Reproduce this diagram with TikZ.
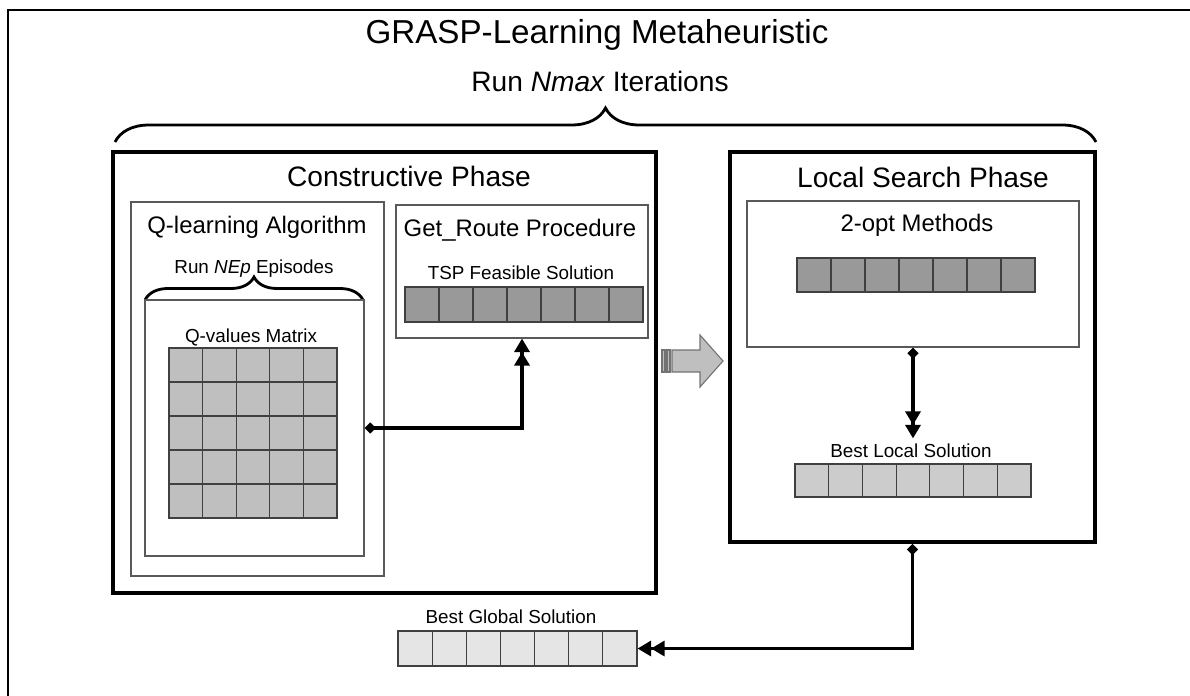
\documentclass[tikz,border=0pt]{standalone}
\usepackage{fontspec}
\setmainfont{Liberation Sans}
\usetikzlibrary{arrows.meta,decorations.pathreplacing,fit}
\definecolor{darkcell}{gray}{0.6}
\definecolor{matcell}{gray}{0.75}
\definecolor{localcell}{gray}{0.8}
\definecolor{globalcell}{gray}{0.9}
\tikzset{
  frame/.style={draw, line width=2pt},
  phase/.style={draw, line width=2.6pt, inner sep=0pt},
  subbox/.style={draw=black!65, line width=0.8pt, inner sep=0pt},
  solrow/.style={draw=black!75, line width=0.8pt, inner sep=0pt},
  cellline/.style={draw=black!75, line width=0.8pt},
  titletext/.style={font=\fontsize{23.6pt}{28pt}\selectfont, anchor=base},
  headtext/.style={font=\fontsize{20pt}{24pt}\selectfont, anchor=base},
  boxtext/.style={font=\fontsize{17pt}{20pt}\selectfont, anchor=base},
  smalltext/.style={font=\fontsize{13.4pt}{16pt}\selectfont, anchor=base},
  bigbrace/.style={decorate, line width=2pt, decoration={brace, amplitude=0.85cm}},
  smallbrace/.style={decorate, line width=2pt, decoration={brace, amplitude=0.575cm}},
  link/.style={line width=2.2pt,
    {Diamond[length=8pt,width=8pt]}-{Triangle[length=9.6pt,width=10.7pt]Triangle[length=9.6pt,width=10.7pt]}},
  flowarrow/.style={draw=black!55, fill=matcell, line width=0.8pt}
}
\begin{document}
\begin{tikzpicture}[x=0.025cm, y=-0.025cm]
\clip (0,0) rectangle (1190,696);
\draw[frame] (8,10) rectangle (1210,720);
\node[titletext] (title) at (597,44) {GRASP-Learning Metaheuristic};
\node[headtext] (runnmax) at (600,92) {Run \textit{Nmax} Iterations};
\draw[bigbrace] (115,142) -- (1096,142);

% constructive phase
\node[phase, fit={(113,152) (656,593)}] (constructive) {};
\node[headtext] (constructivelabel) at (409,186) {Constructive Phase};
\node[subbox, fit={(131,202) (384,576)}] (qlearning) {};
\node[boxtext] (qlearninglabel) at (257,233) {Q-learning Algorithm};
\node[smalltext] (runnep) at (254,273) {Run \textit{NEp} Episodes};
\draw[smallbrace] (145,300) -- (363,300);
\node[subbox, fit={(145,300) (364,556)}] (qvalues) {};
\node[smalltext] (qvalueslabel) at (251,342) {Q-values Matrix};
\node[solrow, fill=matcell, fit={(169,348) (337,518)}] (qmatrix) {};
\foreach \k in {1,...,4} {
  \draw[cellline] (169+\k*33.6,348) -- (169+\k*33.6,518);
  \draw[cellline] (169,348+\k*34) -- (337,348+\k*34);
}
\node[subbox, fit={(396,205) (648,338)}] (getroute) {};
\node[boxtext] (getroutelabel) at (520,236) {Get\_Route Procedure};
\node[smalltext] (tsplabel) at (521,279) {TSP Feasible Solution};
\node[solrow, fill=darkcell, fit={(405,287) (643,322)}] (tsprow) {};
\foreach \k in {1,...,6} \draw[cellline] (405+\k*34,287) -- (405+\k*34,322);

% hand over to local search
\draw[flowarrow] (662,350) rectangle (665,372);
\draw[flowarrow] (667,350) rectangle (670,372);
\draw[flowarrow] (672,350) -- (700,350) -- (700,335) -- (723,361) -- (700,387) -- (700,372) -- (672,372) -- cycle;

% local search phase
\node[phase, fit={(730,152) (1095,542)}] (local) {};
\node[headtext] (locallabel) at (923,187) {Local Search Phase};
\node[subbox, fit={(747,201) (1079,347)}] (twoopt) {};
\node[boxtext] (twooptlabel) at (917,231) {2-opt Methods};
\node[solrow, fill=darkcell, fit={(797,258) (1035,292)}] (twooptrow) {};
\foreach \k in {1,...,6} \draw[cellline] (797+\k*34,258) -- (797+\k*34,292);
\node[smalltext] (bestlocallabel) at (911,457) {Best Local Solution};
\node[solrow, fill=localcell, fit={(795,464) (1031,497)}] (bestlocal) {};
\foreach \k in {1,...,6} \draw[cellline] (795+\k*33.7,464) -- (795+\k*33.7,497);

% best global
\node[smalltext] (bestgloballabel) at (511,623) {Best Global Solution};
\node[solrow, fill=globalcell, fit={(398,631) (637,666)}] (bestglobal) {};
\foreach \k in {1,...,6} \draw[cellline] (398+\k*34.1,631) -- (398+\k*34.1,666);

% connectors
\draw[link] (qvalues.east) -| (getroute.south);
\draw[link] (twoopt.south) -- (twoopt.south |- bestlocallabel.north);
\draw[link] (local.south) |- (bestglobal.east);
\end{tikzpicture}
\end{document}
